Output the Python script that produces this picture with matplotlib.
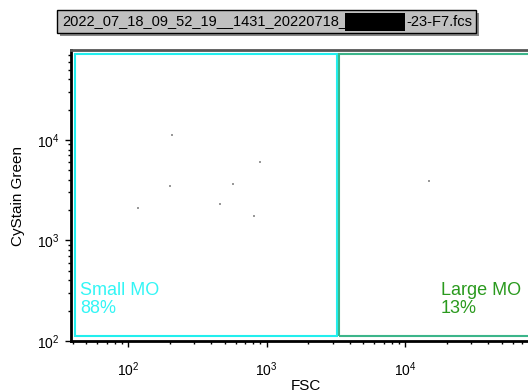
import numpy as np
import matplotlib
matplotlib.use("Agg")
import matplotlib.pyplot as plt
from matplotlib.patches import Rectangle

plt.rcParams['font.family'] = ['Liberation Sans', 'DejaVu Sans']
plt.rcParams['mathtext.fontset'] = 'custom'
plt.rcParams['mathtext.rm'] = 'Liberation Sans'
plt.rcParams['mathtext.it'] = 'Liberation Sans'

# events (FSC, CyStain Green)
fsc = [208, 897, 201, 573, 118, 461, 813, 14900]
cystain = [11200, 6050, 3510, 3660, 2120, 2320, 1730, 3930]

gate_names = ["Small MO", "Large MO"]
gate_pct = ["88%", "13%"]
gate_x = [(41.5, 3250), (3320, 200000)]
gate_y = (111, 71400)

title_left = "2022_07_18_09_52_19__1431_20220718_"
title_right = "-23-F7.fcs"

fig = plt.figure(figsize=(5.28, 3.92), dpi=100)
ax = fig.add_axes([71/528, 51/392, 469/528, 291/392])

ax.set_xscale('log')
ax.set_yscale('log')
ax.set_xlim(10**1.588, 10**4.975)
ax.set_ylim(10**2, 10**4.893)

ax.scatter(fsc, cystain, s=3, marker='s', color='#999999', linewidths=0, zorder=3)

# gates
cols = ['#22eeee', '#3bb58a']
for (x0, x1), c in zip(gate_x, cols):
    ax.add_patch(Rectangle((x0, gate_y[0]), x1 - x0, gate_y[1] - gate_y[0],
                           fill=False, edgecolor=c, linewidth=1.5, zorder=2))

ax.text(0.019, 0.084, gate_names[0] + "\n" + gate_pct[0], transform=ax.transAxes,
        color='#33f5f5', fontsize=13, ha='left', va='bottom', linespacing=1.05)
ax.text(0.789, 0.084, gate_names[1] + "\n" + gate_pct[1], transform=ax.transAxes,
        color='#2a9a1e', fontsize=13, ha='left', va='bottom', linespacing=1.05)

for s in ['left', 'bottom']:
    ax.spines[s].set_linewidth(2)
    ax.spines[s].set_color('black')
ax.spines['top'].set_linewidth(2)
ax.spines['top'].set_color('#555555')
ax.spines['right'].set_visible(False)

ax.tick_params(which='major', direction='out', length=4, width=1, labelsize=10)
ax.tick_params(which='minor', direction='out', length=2.5, width=1)
ax.tick_params(axis='x', which='major', pad=10)
ax.tick_params(axis='y', which='major', pad=4)

ax.set_xlabel("FSC", fontsize=11, labelpad=0)
ax.set_ylabel("CyStain Green", fontsize=11, labelpad=9)

# title box with shadow
fig.patches.append(Rectangle((60/528, (392-36)/392), 419/528, 23/392,
                             transform=fig.transFigure, facecolor='#8a8a8a',
                             edgecolor='none', zorder=1))
fig.patches.append(Rectangle((57/528, (392-33)/392), 419/528, 23/392,
                             transform=fig.transFigure, facecolor='#c0c0c0',
                             edgecolor='black', linewidth=1, zorder=2))
fig.text(62/528, (392-21.5)/392, title_left, fontsize=10.5, ha='left', va='center', zorder=3)
fig.patches.append(Rectangle((345/528, (392-31)/392), 60/528, 18/392,
                             transform=fig.transFigure, facecolor='black',
                             edgecolor='none', zorder=4))
fig.text(472/528, (392-21.5)/392, title_right, fontsize=10.5, ha='right', va='center', zorder=3)

fig.savefig("out.png", dpi=100)
